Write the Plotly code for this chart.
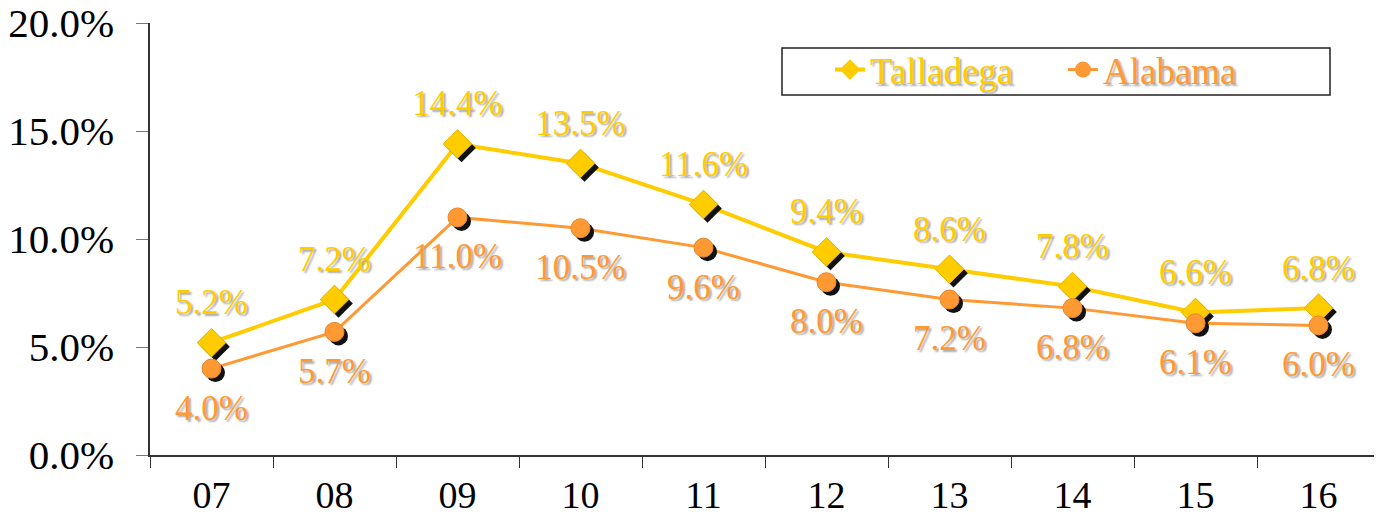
import plotly.graph_objects as go

years = ["07", "08", "09", "10", "11", "12", "13", "14", "15", "16"]
talladega = [5.2, 7.2, 14.4, 13.5, 11.6, 9.4, 8.6, 7.8, 6.6, 6.8]
alabama = [4.0, 5.7, 11.0, 10.5, 9.6, 8.0, 7.2, 6.8, 6.1, 6.0]
y_ticks = [0, 5, 10, 15, 20]
y_tick_text = ["0.0%", "5.0%", "10.0%", "15.0%", "20.0%"]

GOLD = "#FFCC00"
ORANGE = "#FF9933"
FONT = "Liberation Serif"
TXT_SHADOW = "2px 2px 2px #aaaaaa"

# page body has an 8px margin
W, H = 1374, 514
ML, MR, MT, MB = 142, 2, 15, 67
pw, ph = W - ML - MR, H - MT - MB
dx = 4 * 10 / pw
dy = 4 * 20 / ph

fig = go.Figure()

fig.add_trace(go.Scatter(x=years, y=talladega, mode="lines+markers",
                         name=f"<span style='color:{GOLD}'>Talladega</span>",
                         line=dict(color=GOLD, width=4),
                         marker=dict(symbol="diamond", size=22, color=GOLD)))
fig.add_trace(go.Scatter(x=years, y=alabama, mode="lines+markers",
                         name=f"<span style='color:{ORANGE}'>Alabama</span>",
                         line=dict(color=ORANGE, width=3),
                         marker=dict(symbol="circle", size=19, color=ORANGE)))

# marker shadows (offset axes)
fig.add_trace(go.Scatter(x=years, y=talladega, mode="markers", showlegend=False,
                         xaxis="x2", yaxis="y2", hoverinfo="skip",
                         marker=dict(symbol="diamond", size=22, color="#111111")))
fig.add_trace(go.Scatter(x=years, y=alabama, mode="markers", showlegend=False,
                         xaxis="x2", yaxis="y2", hoverinfo="skip",
                         marker=dict(symbol="circle", size=19, color="#111111")))

# markers on top
fig.add_trace(go.Scatter(x=years, y=talladega, mode="markers", showlegend=False,
                         xaxis="x3", yaxis="y3",
                         marker=dict(symbol="diamond", size=22, color=GOLD,
                                     line=dict(color="#E6B800", width=1))))
fig.add_trace(go.Scatter(x=years, y=alabama, mode="markers", showlegend=False,
                         xaxis="x3", yaxis="y3",
                         marker=dict(symbol="circle", size=19, color=ORANGE,
                                     line=dict(color="#E68A2E", width=1))))

# data labels
fig.add_trace(go.Scatter(x=years, y=talladega, mode="markers+text", showlegend=False,
                         xaxis="x3", yaxis="y3", hoverinfo="skip",
                         marker=dict(size=30, opacity=0),
                         texttemplate="%{y:.1f}%", textposition="top center",
                         textfont=dict(family=FONT, size=35, color=GOLD, shadow=TXT_SHADOW)))
fig.add_trace(go.Scatter(x=years, y=alabama, mode="markers+text", showlegend=False,
                         xaxis="x3", yaxis="y3", hoverinfo="skip",
                         marker=dict(size=38, opacity=0),
                         texttemplate="%{y:.1f}%", textposition="bottom center",
                         textfont=dict(family=FONT, size=35, color=ORANGE, shadow=TXT_SHADOW)))

hidden = dict(visible=False, showgrid=False, zeroline=False, automargin=False)
fig.update_layout(
    width=W, height=H,
    margin=dict(l=ML, r=MR, t=MT, b=MB, autoexpand=False),
    paper_bgcolor="white", plot_bgcolor="white",
    font=dict(family=FONT, size=38, color="black"),
    showlegend=True,
    legend=dict(orientation="h", x=(822 - ML) / pw, y=0.963, xanchor="left", yanchor="top",
                bgcolor="rgba(0,0,0,0)", bordercolor="rgba(0,0,0,0)", borderwidth=0,
                font=dict(family=FONT, size=37, shadow=TXT_SHADOW),
                entrywidth=188, entrywidthmode="pixels", itemwidth=30, tracegroupgap=0),
    shapes=[dict(type="rect", xref="paper", yref="paper",
                 x0=(774 - ML) / pw, x1=(1322 - ML) / pw,
                 y0=(H - MB - 87) / ph, y1=(H - MB - 40) / ph,
                 line=dict(color="#222222", width=1.5), fillcolor="white", layer="above")],
    xaxis=dict(type="category", categoryarray=years, range=[-0.5, 9.5],
               showline=True, linecolor="#333333", linewidth=1.5,
               ticks="outside", tickson="boundaries", ticklen=11, tickcolor="#333333",
               tickfont=dict(size=38), showgrid=False, zeroline=False,
               ticklabelstandoff=6, automargin=False, ticklabeloverflow="allow"),
    yaxis=dict(range=[0, 20], tickvals=y_ticks, ticktext=y_tick_text,
               showline=True, linecolor="#333333", linewidth=1.5,
               ticks="outside", ticklen=12, tickcolor="#777777",
               tickfont=dict(size=41), showgrid=False, zeroline=False,
               ticklabelstandoff=14, automargin=False, ticklabeloverflow="allow"),
    xaxis2=dict(type="category", categoryarray=years, overlaying="x",
                range=[-0.5 - dx, 9.5 - dx], **hidden),
    yaxis2=dict(overlaying="y", range=[0 + dy, 20 + dy], **hidden),
    xaxis3=dict(type="category", categoryarray=years, overlaying="x",
                range=[-0.5, 9.5], **hidden),
    yaxis3=dict(overlaying="y", range=[0, 20], **hidden),
)

fig.write_html("out.html")
